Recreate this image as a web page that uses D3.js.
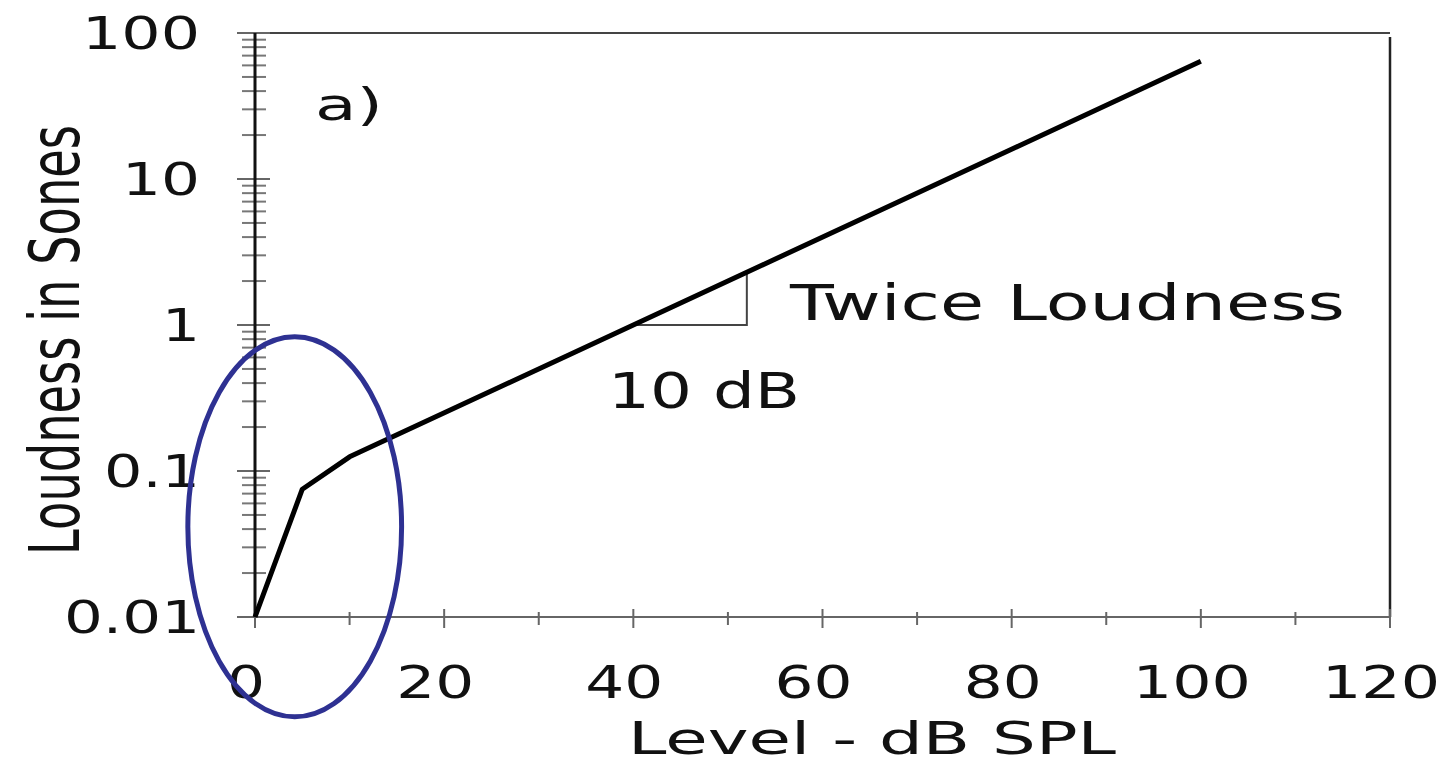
<!DOCTYPE html>
<html>
<head>
<meta charset="utf-8">
<script src="https://cdn.jsdelivr.net/npm/d3@7"></script>
<style>
  body { margin: 0; background: #fff; }
  text { font-family: "DejaVu Sans", sans-serif; fill: #111; }
</style>
</head>
<body>
<div id="chart"></div>
<script>
// Loudness curve (dB SPL -> sones)
const levels = [0, 5, 10, 100];
const sones = [0.01, 0.075, 0.125, 64];

const xTicks = [0, 20, 40, 60, 80, 100, 120];
const xMinorTicks = [10, 30, 50, 70, 90, 110];
const yTicks = [0.01, 0.1, 1, 10, 100];
const yTickLabels = ["0.01", "0.1", "1", "10", "100"];

// slope triangle: 10 dB step -> twice loudness
const slopeLevels = [40, 52];
const slopeSones = [1, 2.3];

// circled region (dB, sones)
const circleLevels = [-7.1, 15.5];
const circleSones = [0.00207, 0.83];

const W = 1452, H = 763;
const x = d3.scaleLinear().domain([0, 120]).range([255, 1390]);
const y = d3.scaleLog().domain([0.01, 100]).range([617, 33]);

const svg = d3.select("#chart").append("svg")
    .attr("width", W)
    .attr("height", H);

// frame: top and right
svg.append("line")
    .attr("x1", 237).attr("x2", x(120))
    .attr("y1", y(100)).attr("y2", y(100))
    .attr("stroke", "#444").attr("stroke-width", 2);
svg.append("line")
    .attr("x1", x(120)).attr("x2", x(120))
    .attr("y1", y(100) + 4).attr("y2", y(0.01))
    .attr("stroke", "#222").attr("stroke-width", 2.5);

// bottom axis
svg.append("line")
    .attr("x1", 237).attr("x2", x(120))
    .attr("y1", y(0.01)).attr("y2", y(0.01))
    .attr("stroke", "#666").attr("stroke-width", 2);
svg.selectAll(".xmaj")
    .data(xTicks)
    .enter().append("line")
    .attr("x1", d => x(d)).attr("x2", d => x(d))
    .attr("y1", d => d === 0 ? 617 : 609).attr("y2", 628)
    .attr("stroke", "#666").attr("stroke-width", 2);
svg.selectAll(".xmin")
    .data(xMinorTicks)
    .enter().append("line")
    .attr("x1", d => x(d)).attr("x2", d => x(d))
    .attr("y1", 612).attr("y2", 625)
    .attr("stroke", "#666").attr("stroke-width", 2);

svg.selectAll(".xlab")
    .data(xTicks)
    .enter().append("text")
    .attr("x", d => x(d) - 9)
    .attr("y", 698)
    .attr("text-anchor", "middle")
    .attr("textLength", d => String(d).length * 40 - 2)
    .attr("lengthAdjust", "spacingAndGlyphs")
    .style("font-size", "44px")
    .text(d => d);

// left axis with log ticks
const yMinor = [];
[0.01, 0.1, 1, 10].forEach(dec => {
    for (let k = 2; k <= 9; k++) yMinor.push(dec * k);
});
svg.selectAll(".ymin")
    .data(yMinor)
    .enter().append("line")
    .attr("x1", 242).attr("x2", 266)
    .attr("y1", d => y(d)).attr("y2", d => y(d))
    .attr("stroke", "#777").attr("stroke-width", 2);
svg.selectAll(".ymaj")
    .data(yTicks)
    .enter().append("line")
    .attr("x1", 237).attr("x2", 270)
    .attr("y1", d => y(d)).attr("y2", d => y(d))
    .attr("stroke", "#666").attr("stroke-width", 2);
svg.append("line")
    .attr("x1", x(0)).attr("x2", x(0))
    .attr("y1", y(100)).attr("y2", y(0.01))
    .attr("stroke", "#111").attr("stroke-width", 3);

svg.selectAll(".ylab")
    .data(yTicks)
    .enter().append("text")
    .attr("x", 200)
    .attr("y", d => y(d) + 16)
    .attr("text-anchor", "end")
    .attr("textLength", (d, i) => {
        const s = yTickLabels[i];
        return s.replace(".", "").length * 40 + (s.includes(".") ? 18 : 0) - 2;
    })
    .attr("lengthAdjust", "spacingAndGlyphs")
    .style("font-size", "44px")
    .text((d, i) => yTickLabels[i]);

// axis titles
svg.append("text")
    .attr("x", 872).attr("y", 754)
    .attr("text-anchor", "middle")
    .attr("textLength", 488)
    .attr("lengthAdjust", "spacingAndGlyphs")
    .style("font-size", "44px")
    .text("Level - dB SPL");

// y title: condensed by a horizontal scale so it fits in 430px
const yTitle = svg.append("text")
    .attr("text-anchor", "middle")
    .style("font-size", "70px")
    .text("Loudness in Sones");
const natural = yTitle.node().getComputedTextLength();
yTitle.attr("transform", `translate(79,340) rotate(-90) scale(${430 / natural},1)`);

// panel label
svg.append("text")
    .attr("x", 315).attr("y", 120)
    .attr("textLength", 68)
    .attr("lengthAdjust", "spacingAndGlyphs")
    .style("font-size", "44px")
    .text("a)");

// slope triangle
svg.append("path")
    .attr("d", `M${x(slopeLevels[0])},${y(slopeSones[0])}H${x(slopeLevels[1])}V${y(slopeSones[1])}`)
    .attr("fill", "none")
    .attr("stroke", "#444")
    .attr("stroke-width", 2);

svg.append("text")
    .attr("x", 790).attr("y", 320)
    .attr("textLength", 555)
    .attr("lengthAdjust", "spacingAndGlyphs")
    .style("font-size", "50px")
    .text("Twice Loudness");

svg.append("text")
    .attr("x", 608).attr("y", 408)
    .attr("textLength", 192)
    .attr("lengthAdjust", "spacingAndGlyphs")
    .style("font-size", "50px")
    .text("10 dB");

// loudness curve
const line = d3.line()
    .x((d, i) => x(levels[i]))
    .y(d => y(d));
svg.append("path")
    .datum(sones)
    .attr("d", line)
    .attr("fill", "none")
    .attr("stroke", "#000")
    .attr("stroke-width", 5)
    .attr("stroke-linejoin", "round");

// highlight ellipse
const ex0 = x(circleLevels[0]), ex1 = x(circleLevels[1]);
const ey0 = y(circleSones[1]), ey1 = y(circleSones[0]);
svg.append("ellipse")
    .attr("cx", (ex0 + ex1) / 2)
    .attr("cy", (ey0 + ey1) / 2)
    .attr("rx", (ex1 - ex0) / 2)
    .attr("ry", (ey1 - ey0) / 2)
    .attr("fill", "none")
    .attr("stroke", "#2e3192")
    .attr("stroke-width", 5);
</script>
</body>
</html>
